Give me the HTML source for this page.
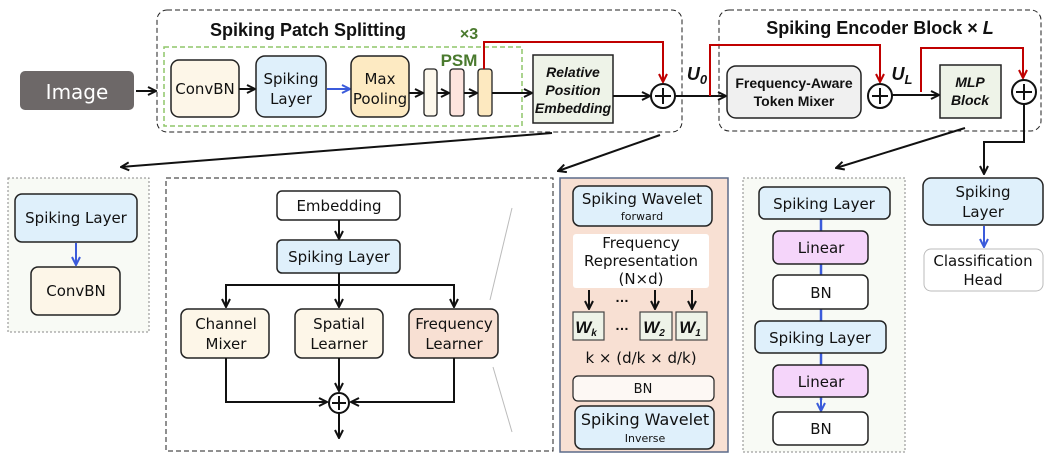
<!DOCTYPE html>
<html><head><meta charset="utf-8"><style>
body{margin:0;background:#fff}
svg{display:block}
.t{font-family:"DejaVu Sans","Liberation Sans",sans-serif;fill:#111;text-anchor:middle}
.b{font-family:"Liberation Sans",sans-serif;font-weight:bold;fill:#111;text-anchor:middle}
</style></head><body>
<svg width="1051" height="462" viewBox="0 0 1051 462" xmlns="http://www.w3.org/2000/svg" font-size="15">
<defs>
<marker id="a" viewBox="0 0 10 10" refX="9" refY="5" markerWidth="5" markerHeight="5" orient="auto"><path d="M1,1 L9,5 L1,9" fill="none" stroke="#111" stroke-width="2"/></marker>
<marker id="r" viewBox="0 0 10 10" refX="9" refY="5" markerWidth="5" markerHeight="5" orient="auto"><path d="M1,1 L9,5 L1,9" fill="none" stroke="#c00000" stroke-width="2"/></marker>
<marker id="bl" viewBox="0 0 10 10" refX="9" refY="5" markerWidth="5" markerHeight="5" orient="auto"><path d="M1,1 L9,5 L1,9" fill="none" stroke="#3b5bdb" stroke-width="2"/></marker>
</defs>
<!-- Image -->
<rect x="20" y="71" width="114" height="39" rx="5" fill="#6d6868"/>
<text x="77" y="99" style="font-family:'DejaVu Sans',sans-serif;font-size:20px;fill:#fff;text-anchor:middle">Image</text>
<line x1="136" y1="91" x2="156" y2="91" stroke="#111" stroke-width="2" marker-end="url(#a)"/>
<!-- Patch splitting -->
<rect x="157" y="10" width="525" height="122" rx="10" fill="none" stroke="#222" stroke-dasharray="5,3"/>
<text x="308" y="36" class="b" font-size="18">Spiking Patch Splitting</text>
<rect x="164" y="47" width="358" height="79" fill="none" stroke="#8fc66a" stroke-width="1.5" stroke-dasharray="5,3"/>
<rect x="171" y="60" width="68" height="57" rx="8" fill="#fdf6e8" stroke="#222" stroke-width="1.5"/>
<text x="205" y="94" class="t">ConvBN</text>
<line x1="239" y1="89" x2="255" y2="89" stroke="#111" stroke-width="2" marker-end="url(#a)"/>
<rect x="256" y="56" width="70" height="61" rx="9" fill="#dff0fb" stroke="#222" stroke-width="1.5"/>
<text x="291" y="84" class="t">Spiking</text><text x="291" y="104" class="t">Layer</text>
<line x1="327" y1="89" x2="350" y2="89" stroke="#3b5bdb" stroke-width="2" marker-end="url(#bl)"/>
<rect x="351" y="56" width="58" height="61" rx="9" fill="#fdeac2" stroke="#222" stroke-width="1.5"/>
<text x="380" y="84" class="t">Max</text><text x="380" y="104" class="t">Pooling</text>
<line x1="409" y1="93" x2="423" y2="93" stroke="#111" stroke-width="2" marker-end="url(#a)"/>
<rect x="424" y="69" width="13" height="47" rx="3" fill="#fdf8ec" stroke="#222" stroke-width="1.3"/>
<line x1="437" y1="93" x2="449" y2="93" stroke="#111" stroke-width="2" marker-end="url(#a)"/>
<rect x="450" y="69" width="14" height="47" rx="3" fill="#fde4de" stroke="#222" stroke-width="1.3"/>
<line x1="464" y1="93" x2="477" y2="93" stroke="#111" stroke-width="2" marker-end="url(#a)"/>
<rect x="478" y="69" width="14" height="47" rx="3" fill="#fde9c0" stroke="#222" stroke-width="1.3"/>
<line x1="492" y1="93" x2="532" y2="93" stroke="#111" stroke-width="2" marker-end="url(#a)"/>
<text x="459" y="66" class="b" font-size="17" style="fill:#4a7a2e">PSM</text>
<text x="469" y="39" class="b" font-size="16" style="fill:#4a7a2e">×3</text>
<rect x="533" y="55" width="80" height="68" fill="#eef3e8" stroke="#222" stroke-width="1.5"/>
<g class="b" font-size="14" font-style="italic"><text x="573" y="77">Relative</text><text x="573" y="95">Position</text><text x="573" y="113">Embedding</text></g>
<line x1="613" y1="96" x2="650" y2="96" stroke="#111" stroke-width="2" marker-end="url(#a)"/>
<polyline points="484,69 484,42 663,42 663,82" fill="none" stroke="#c00000" stroke-width="2" marker-end="url(#r)"/>
<circle cx="663" cy="96" r="12" fill="#fff" stroke="#111" stroke-width="2"/>
<path d="M655,96h16M663,88v16" stroke="#111" stroke-width="2"/>
<line x1="675" y1="96" x2="726" y2="96" stroke="#111" stroke-width="2" marker-end="url(#a)"/>
<text x="697" y="80" class="b" font-size="18" font-style="italic">U<tspan font-size="13" dy="4">0</tspan></text>
<!-- Encoder -->
<rect x="719" y="10" width="322" height="121" rx="10" fill="none" stroke="#222" stroke-dasharray="5,3"/>
<text x="880" y="34" class="b" font-size="18">Spiking Encoder Block × <tspan font-style="italic">L</tspan></text>
<polyline points="710,96 710,45 880,45 880,82" fill="none" stroke="#c00000" stroke-width="2" marker-end="url(#r)"/>
<rect x="727" y="66" width="134" height="52" rx="9" fill="#f0f0f0" stroke="#222" stroke-width="1.5"/>
<g class="b" font-size="14"><text x="794" y="88">Frequency-Aware</text><text x="794" y="106">Token Mixer</text></g>
<circle cx="880" cy="96" r="12" fill="#fff" stroke="#111" stroke-width="2"/>
<path d="M872,96h16M880,88v16" stroke="#111" stroke-width="2"/>
<line x1="892" y1="95" x2="939" y2="95" stroke="#111" stroke-width="2" marker-end="url(#a)"/>
<text x="902" y="80" class="b" font-size="18" font-style="italic">U<tspan font-size="13" dy="4">L</tspan></text>
<polyline points="921,92 921,48 1023,48 1023,78" fill="none" stroke="#c00000" stroke-width="2" marker-end="url(#r)"/>
<rect x="940" y="65" width="61" height="53" fill="#eef3e8" stroke="#222" stroke-width="1.5"/>
<g class="b" font-size="14" font-style="italic"><text x="970" y="87">MLP</text><text x="970" y="105">Block</text></g>
<circle cx="1024" cy="92" r="12" fill="#fff" stroke="#111" stroke-width="2"/>
<path d="M1016,92h16M1024,84v16" stroke="#111" stroke-width="2"/>
<polyline points="1024,104 1024,142 984,142 984,174" fill="none" stroke="#111" stroke-width="2" marker-end="url(#a)"/>
<!-- Zoom lines -->
<line x1="552" y1="133" x2="121" y2="167" stroke="#111" stroke-width="2" marker-end="url(#a)"/>
<line x1="660" y1="135" x2="558" y2="171" stroke="#111" stroke-width="2" marker-end="url(#a)"/>
<line x1="965" y1="128" x2="836" y2="168" stroke="#111" stroke-width="2" marker-end="url(#a)"/>
<!-- Left box -->
<rect x="8" y="178" width="141" height="154" fill="#f8faf5" stroke="#888" stroke-dasharray="2,2"/>
<rect x="15" y="194" width="122" height="48" rx="7" fill="#dff0fb" stroke="#222" stroke-width="1.5"/>
<text x="76" y="223" class="t">Spiking Layer</text>
<line x1="76" y1="243" x2="76" y2="265" stroke="#3b5bdb" stroke-width="2" marker-end="url(#bl)"/>
<rect x="31" y="267" width="89" height="48" rx="7" fill="#fdf6e8" stroke="#222" stroke-width="1.5"/>
<text x="76" y="296" class="t">ConvBN</text>
<!-- Middle -->
<rect x="166" y="178" width="387" height="273" fill="none" stroke="#222" stroke-dasharray="5,3"/>
<rect x="277" y="191" width="123" height="29" rx="5" fill="#fff" stroke="#222" stroke-width="1.5"/>
<text x="339" y="211" class="t">Embedding</text>
<line x1="339" y1="220" x2="339" y2="239" stroke="#111" stroke-width="2" marker-end="url(#a)"/>
<rect x="277" y="240" width="123" height="33" rx="5" fill="#dff0fb" stroke="#222" stroke-width="1.5"/>
<text x="339" y="262" class="t">Spiking Layer</text>
<polyline points="226,307 226,285 454,285 454,307" fill="none" stroke="#111" stroke-width="2" marker-end="url(#a)"/>
<line x1="226" y1="290" x2="226" y2="307" stroke="#111" stroke-width="2" marker-end="url(#a)"/>
<line x1="339" y1="273" x2="339" y2="307" stroke="#111" stroke-width="2" marker-end="url(#a)"/>
<rect x="181" y="309" width="88" height="49" rx="7" fill="#fdf6e8" stroke="#222" stroke-width="1.5"/>
<text x="226" y="329" class="t">Channel</text><text x="226" y="349" class="t">Mixer</text>
<rect x="295" y="309" width="88" height="49" rx="7" fill="#fdf6e8" stroke="#222" stroke-width="1.5"/>
<text x="339" y="329" class="t">Spatial</text><text x="339" y="349" class="t">Learner</text>
<rect x="409" y="309" width="89" height="49" rx="7" fill="#f8e0d3" stroke="#222" stroke-width="1.5"/>
<text x="454" y="329" class="t">Frequency</text><text x="454" y="349" class="t">Learner</text>
<polyline points="226,358 226,402 327,402" fill="none" stroke="#111" stroke-width="2" marker-end="url(#a)"/>
<polyline points="454,358 454,402 351,402" fill="none" stroke="#111" stroke-width="2" marker-end="url(#a)"/>
<line x1="339" y1="358" x2="339" y2="391" stroke="#111" stroke-width="2" marker-end="url(#a)"/>
<circle cx="339" cy="403" r="10" fill="#fff" stroke="#111" stroke-width="2"/>
<path d="M332,403h14M339,396v14" stroke="#111" stroke-width="2"/>
<line x1="339" y1="413" x2="339" y2="438" stroke="#111" stroke-width="2" marker-end="url(#a)"/>
<line x1="490" y1="300" x2="512" y2="208" stroke="#bbb" stroke-width="1"/>
<line x1="493" y1="367" x2="512" y2="432" stroke="#bbb" stroke-width="1"/>
<!-- Orange box -->
<rect x="560" y="178" width="168" height="274" fill="#f8e0d3" stroke="#5c6b8a" stroke-width="1.5"/>
<rect x="573" y="186" width="139" height="40" rx="7" fill="#dff0fb" stroke="#222" stroke-width="1.5"/>
<text x="642" y="204" class="t">Spiking Wavelet</text>
<text x="642" y="220" class="t" font-size="11">forward</text>
<rect x="573" y="234" width="136" height="54" rx="3" fill="#fff"/>
<text x="641" y="248" class="t">Frequency</text><text x="641" y="266" class="t">Representation</text><text x="641" y="284" class="t">(N×d)</text>
<line x1="589" y1="290" x2="589" y2="309" stroke="#111" stroke-width="2" marker-end="url(#a)"/>
<line x1="655" y1="290" x2="655" y2="309" stroke="#111" stroke-width="2" marker-end="url(#a)"/>
<line x1="692" y1="290" x2="692" y2="309" stroke="#111" stroke-width="2" marker-end="url(#a)"/>
<text x="622" y="302" class="b" font-size="14">…</text>
<rect x="573" y="312" width="31" height="28" fill="#eef3e8" stroke="#444" stroke-width="1.2"/>
<rect x="640" y="312" width="32" height="28" fill="#eef3e8" stroke="#444" stroke-width="1.2"/>
<rect x="676" y="312" width="31" height="28" fill="#eef3e8" stroke="#444" stroke-width="1.2"/>
<g class="b" font-size="17" font-style="italic">
<text x="586" y="333">W<tspan font-size="10" dy="3">k</tspan></text>
<text x="654" y="333">W<tspan font-size="10" dy="3">2</tspan></text>
<text x="690" y="333">W<tspan font-size="10" dy="3">1</tspan></text></g>
<text x="622" y="330" class="b" font-size="14">…</text>
<text x="641" y="363" class="t">k × (d/k × d/k)</text>
<rect x="573" y="376" width="141" height="25" rx="5" fill="#fdf8f4" stroke="#222" stroke-width="1.2"/>
<text x="643" y="393" class="t" font-size="13">BN</text>
<rect x="575" y="406" width="139" height="43" rx="7" fill="#dff0fb" stroke="#222" stroke-width="1.5"/>
<text x="645" y="425" class="t" font-size="16">Spiking Wavelet</text>
<text x="645" y="442" class="t" font-size="11">Inverse</text>
<!-- Right dotted -->
<rect x="743" y="178" width="162" height="274" fill="#f8faf5" stroke="#888" stroke-dasharray="2,2"/>
<line x1="821" y1="219" x2="821" y2="400" stroke="#3b5bdb" stroke-width="2.5"/>
<line x1="821" y1="397" x2="821" y2="411" stroke="#3b5bdb" stroke-width="2" marker-end="url(#bl)"/>
<rect x="759" y="187" width="131" height="32" rx="6" fill="#dff0fb" stroke="#222" stroke-width="1.5"/>
<text x="824" y="209" class="t">Spiking Layer</text>
<rect x="773" y="231" width="95" height="33" rx="6" fill="#f5d5fa" stroke="#222" stroke-width="1.5"/>
<text x="821" y="253" class="t">Linear</text>
<rect x="773" y="275" width="95" height="34" rx="6" fill="#fff" stroke="#222" stroke-width="1.5"/>
<text x="821" y="298" class="t">BN</text>
<rect x="755" y="321" width="131" height="32" rx="6" fill="#dff0fb" stroke="#222" stroke-width="1.5"/>
<text x="820" y="343" class="t">Spiking Layer</text>
<rect x="773" y="365" width="95" height="32" rx="6" fill="#f5d5fa" stroke="#222" stroke-width="1.5"/>
<text x="821" y="387" class="t">Linear</text>
<rect x="773" y="412" width="95" height="33" rx="6" fill="#fff" stroke="#222" stroke-width="1.5"/>
<text x="821" y="434" class="t">BN</text>
<!-- Far right -->
<rect x="923" y="178" width="120" height="47" rx="8" fill="#dff0fb" stroke="#222" stroke-width="1.5"/>
<text x="983" y="197" class="t">Spiking</text><text x="983" y="217" class="t">Layer</text>
<line x1="984" y1="226" x2="984" y2="247" stroke="#3b5bdb" stroke-width="2" marker-end="url(#bl)"/>
<rect x="924" y="249" width="119" height="42" rx="7" fill="#fff" stroke="#bbb" stroke-width="1"/>
<text x="983" y="266" class="t">Classification</text><text x="983" y="285" class="t">Head</text>
</svg>
</body></html>
